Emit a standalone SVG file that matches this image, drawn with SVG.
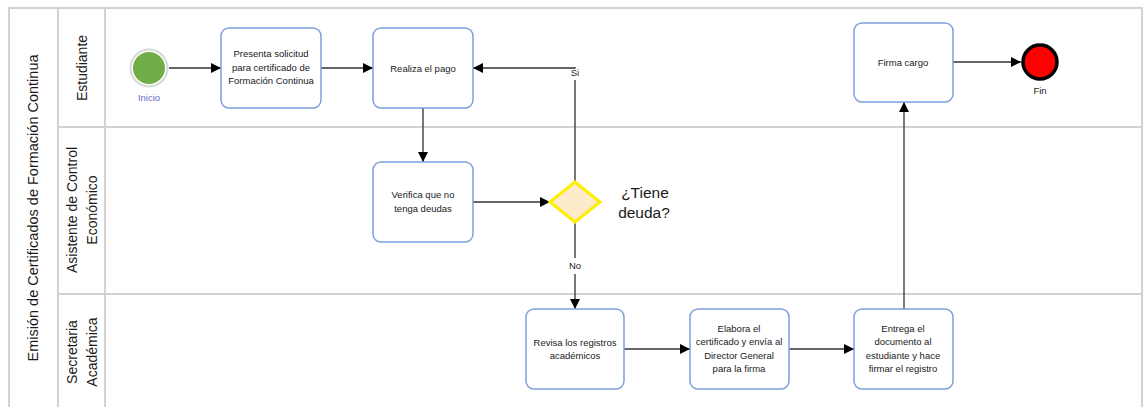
<svg xmlns="http://www.w3.org/2000/svg" width="1146" height="407" viewBox="0 0 1146 407">
  <defs>
    <marker id="arrow" viewBox="0 0 10 10" refX="10" refY="5" markerWidth="10" markerHeight="10" markerUnits="userSpaceOnUse" orient="auto">
      <path d="M0,0 L10,5 L0,10 Z" fill="#000"/>
    </marker>
  </defs>
  <style>
    .frame { fill: none; stroke: #d2d2d2; stroke-width: 2; }
    .lane-title { font-family: "Liberation Sans", Arial, sans-serif; font-size: 14px; fill: #1a1a1a; text-anchor: middle; }
    .task rect { fill: #fff; stroke: #7f9fdc; stroke-width: 1.5; }
    .task text { font-family: "Liberation Sans", Arial, sans-serif; font-size: 9.5px; fill: #1a1a1a; text-anchor: middle; }
    .flow { fill: none; stroke: #333; stroke-width: 1.3; }
    .flow-v { fill: none; stroke: #555; stroke-width: 1.6; }
    .label { font-family: "Liberation Sans", Arial, sans-serif; font-size: 9.5px; fill: #1a1a1a; text-anchor: middle; }
    .question { font-family: "Liberation Sans", Arial, sans-serif; font-size: 15.5px; fill: #1a1a1a; text-anchor: middle; }
  </style>

  <rect width="1146" height="407" fill="#fff"/>

  <!-- pool and lanes -->
  <g id="pool">
    <path class="frame" d="M9,412 V8 H1142 V412"/>
    <line class="frame" x1="58" y1="8" x2="58" y2="412"/>
    <line class="frame" x1="105" y1="8" x2="105" y2="412"/>
    <line class="frame" x1="58" y1="127" x2="1142" y2="127"/>
    <line class="frame" x1="58" y1="294" x2="1142" y2="294"/>
    <text class="lane-title" transform="translate(38,208) rotate(-90)" style="font-size:14.5px">Emisión de Certificados de Formación Continua</text>
  </g>
  <g id="lane-estudiante">
    <text class="lane-title" transform="translate(87,68) rotate(-90)">Estudiante</text>
  </g>
  <g id="lane-asistente">
    <text class="lane-title" transform="translate(77,210) rotate(-90)">Asistente de Control</text>
    <text class="lane-title" transform="translate(97,210) rotate(-90)">Económico</text>
  </g>
  <g id="lane-secretaria">
    <text class="lane-title" transform="translate(77,352) rotate(-90)">Secretaria</text>
    <text class="lane-title" transform="translate(97,352) rotate(-90)">Académica</text>
  </g>

  <!-- connectors -->
  <g id="connectors">
    <line class="flow" x1="169" y1="68" x2="221" y2="68" marker-end="url(#arrow)"/>
    <line class="flow" x1="321" y1="68" x2="373" y2="68" marker-end="url(#arrow)"/>
    <line class="flow-v" x1="423" y1="108" x2="423" y2="162" marker-end="url(#arrow)"/>
    <line class="flow" x1="473" y1="202" x2="550" y2="202" marker-end="url(#arrow)"/>
    <polyline class="flow-v" points="575,182 575,80"/>
    <polyline class="flow" points="575,67 575,68 473,68" marker-end="url(#arrow)"/>
    <text class="label" x="575" y="76">Si</text>
    <line class="flow-v" x1="575" y1="222" x2="575" y2="258"/>
    <text class="label" x="575" y="269">No</text>
    <line class="flow-v" x1="575" y1="274" x2="575" y2="309" marker-end="url(#arrow)"/>
    <line class="flow" x1="624" y1="349" x2="690" y2="349" marker-end="url(#arrow)"/>
    <line class="flow" x1="789" y1="349" x2="854" y2="349" marker-end="url(#arrow)"/>
    <line class="flow" x1="904" y1="309" x2="904" y2="102" marker-end="url(#arrow)"/>
    <line class="flow" x1="953" y1="62" x2="1021" y2="62" marker-end="url(#arrow)"/>
  </g>

  <!-- events -->
  <g id="inicio">
    <circle cx="149" cy="68" r="18.5" fill="#fff" stroke="#d8d8d8" stroke-width="2"/>
    <circle cx="149" cy="68" r="16" fill="#70ad47"/>
    <text class="label" x="149" y="101" style="fill:#6a6acc">Inicio</text>
  </g>
  <g id="fin">
    <circle cx="1040" cy="62" r="17" fill="#ff0000" stroke="#000" stroke-width="3.5"/>
    <text class="label" x="1040" y="94">Fin</text>
  </g>

  <!-- tasks -->
  <g id="presenta-solicitud" class="task">
    <rect x="221" y="28" width="100" height="80" rx="8"/>
    <text x="271" y="57">Presenta solicitud</text>
    <text x="271" y="71">para certificado de</text>
    <text x="271" y="84">Formación Continua</text>
  </g>
  <g id="realiza-pago" class="task">
    <rect x="373" y="28" width="100" height="80" rx="8"/>
    <text x="423" y="72">Realiza el pago</text>
  </g>
  <g id="verifica-deudas" class="task">
    <rect x="373" y="162" width="100" height="80" rx="8"/>
    <text x="423" y="198">Verifica que no</text>
    <text x="423" y="212">tenga deudas</text>
  </g>
  <g id="tiene-deuda">
    <polygon points="575,182 600,202 575,222 550,202" fill="#fdebc9" stroke="#ffee00" stroke-width="3"/>
    <text class="question" x="645" y="198">¿Tiene</text>
    <text class="question" x="644" y="218">deuda?</text>
  </g>
  <g id="firma-cargo" class="task">
    <rect x="854" y="23" width="99" height="79" rx="8"/>
    <text x="903" y="66">Firma cargo</text>
  </g>
  <g id="revisa-registros" class="task">
    <rect x="526" y="309" width="98" height="80" rx="8"/>
    <text x="575" y="346">Revisa los registros</text>
    <text x="575" y="359">académicos</text>
  </g>
  <g id="elabora-certificado" class="task">
    <rect x="690" y="309" width="99" height="80" rx="8"/>
    <text x="739" y="332">Elabora el</text>
    <text x="739" y="345">certificado y envía al</text>
    <text x="739" y="359">Director General</text>
    <text x="739" y="372">para la firma</text>
  </g>
  <g id="entrega-documento" class="task">
    <rect x="854" y="309" width="99" height="80" rx="8"/>
    <text x="903" y="332">Entrega el</text>
    <text x="903" y="345">documento al</text>
    <text x="903" y="359">estudiante y hace</text>
    <text x="903" y="372">firmar el registro</text>
  </g>
</svg>
